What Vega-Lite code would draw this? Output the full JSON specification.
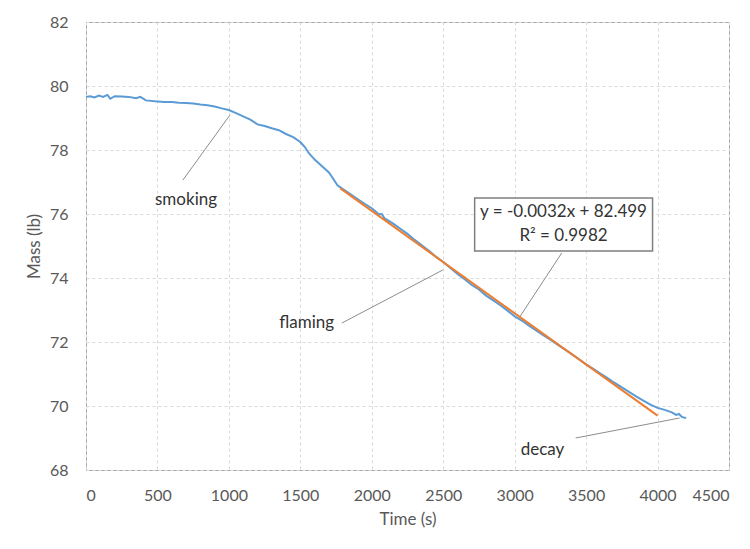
{
  "$schema": "https://vega.github.io/schema/vega-lite/v6.json",
  "width": 643,
  "height": 448,
  "autosize": {"type": "none"},
  "padding": {"left": 86, "top": 22, "right": 21, "bottom": 79},
  "background": "#ffffff",
  "config": {
    "font": "Lato",
    "view": {"stroke": "#a6a6a6", "strokeWidth": 1},
    "axis": {
      "grid": true,
      "gridColor": "#d9d9d9",
      "gridDash": [3, 3],
      "ticks": false,
      "domain": false,
      "labelFont": "Lato",
      "labelFontSize": 16,
      "labelColor": "#595959",
      "titleFont": "Lato",
      "titleFontSize": 17,
      "titleFontWeight": "normal",
      "titleColor": "#595959"
    }
  },
  "datasets": {
    "mass": [
      {"t": 0, "m": 79.66}, {"t": 30, "m": 79.68}, {"t": 60, "m": 79.64}, {"t": 90, "m": 79.70},
      {"t": 120, "m": 79.66}, {"t": 150, "m": 79.72}, {"t": 170, "m": 79.60}, {"t": 200, "m": 79.68},
      {"t": 250, "m": 79.67}, {"t": 300, "m": 79.66}, {"t": 350, "m": 79.62}, {"t": 380, "m": 79.66},
      {"t": 420, "m": 79.55}, {"t": 480, "m": 79.52}, {"t": 550, "m": 79.50}, {"t": 600, "m": 79.50},
      {"t": 650, "m": 79.48}, {"t": 700, "m": 79.47}, {"t": 750, "m": 79.45}, {"t": 800, "m": 79.42},
      {"t": 850, "m": 79.40}, {"t": 900, "m": 79.36}, {"t": 950, "m": 79.30}, {"t": 1000, "m": 79.25},
      {"t": 1050, "m": 79.15}, {"t": 1100, "m": 79.05}, {"t": 1150, "m": 78.95}, {"t": 1200, "m": 78.80},
      {"t": 1250, "m": 78.75}, {"t": 1300, "m": 78.68}, {"t": 1350, "m": 78.62}, {"t": 1400, "m": 78.50},
      {"t": 1450, "m": 78.40}, {"t": 1500, "m": 78.25}, {"t": 1530, "m": 78.10}, {"t": 1560, "m": 77.90},
      {"t": 1600, "m": 77.70}, {"t": 1650, "m": 77.50}, {"t": 1700, "m": 77.30}, {"t": 1730, "m": 77.10},
      {"t": 1760, "m": 76.90}, {"t": 1790, "m": 76.80}, {"t": 1850, "m": 76.62}, {"t": 1900, "m": 76.47},
      {"t": 1950, "m": 76.32}, {"t": 2000, "m": 76.18}, {"t": 2050, "m": 75.99}, {"t": 2070, "m": 76.00},
      {"t": 2090, "m": 75.86}, {"t": 2150, "m": 75.70}, {"t": 2200, "m": 75.54}, {"t": 2250, "m": 75.38},
      {"t": 2300, "m": 75.19}, {"t": 2350, "m": 75.02}, {"t": 2400, "m": 74.85}, {"t": 2450, "m": 74.66},
      {"t": 2500, "m": 74.50}, {"t": 2550, "m": 74.31}, {"t": 2600, "m": 74.13}, {"t": 2650, "m": 73.96},
      {"t": 2700, "m": 73.78}, {"t": 2750, "m": 73.64}, {"t": 2800, "m": 73.45}, {"t": 2850, "m": 73.30},
      {"t": 2900, "m": 73.15}, {"t": 2950, "m": 72.98}, {"t": 3000, "m": 72.80}, {"t": 3050, "m": 72.67},
      {"t": 3100, "m": 72.51}, {"t": 3150, "m": 72.36}, {"t": 3200, "m": 72.21}, {"t": 3250, "m": 72.07},
      {"t": 3300, "m": 71.92}, {"t": 3350, "m": 71.77}, {"t": 3400, "m": 71.62}, {"t": 3450, "m": 71.46},
      {"t": 3500, "m": 71.30}, {"t": 3550, "m": 71.16}, {"t": 3600, "m": 71.01}, {"t": 3650, "m": 70.87},
      {"t": 3700, "m": 70.72}, {"t": 3750, "m": 70.58}, {"t": 3800, "m": 70.44}, {"t": 3850, "m": 70.30},
      {"t": 3900, "m": 70.17}, {"t": 3950, "m": 70.04}, {"t": 4000, "m": 69.94}, {"t": 4050, "m": 69.88},
      {"t": 4100, "m": 69.80}, {"t": 4130, "m": 69.72}, {"t": 4150, "m": 69.75}, {"t": 4170, "m": 69.66},
      {"t": 4200, "m": 69.62}
    ],
    "fit": [
      {"t": 1780, "m": 76.80},
      {"t": 4000, "m": 69.70}
    ],
    "pointers": [
      {"t1": 678, "m1": 77.06, "t2": 1007, "m2": 79.09},
      {"t1": 1790, "m1": 72.59, "t2": 2497, "m2": 74.25},
      {"t1": 3329, "m1": 74.78, "t2": 3035, "m2": 72.78},
      {"t1": 3427, "m1": 69.0, "t2": 4154, "m2": 69.625}
    ],
    "labels": [
      {"t": 700, "m": 76.45, "label": "smoking"},
      {"t": 1545, "m": 72.6, "label": "flaming"},
      {"t": 3195, "m": 68.62, "label": "decay"},
      {"t": 3342, "m": 76.05, "label": "y = -0.0032x + 82.499"},
      {"t": 3342, "m": 75.30, "label": "R² = 0.9982"}
    ],
    "box": [
      {"t1": 2720, "t2": 3965, "m1": 76.5, "m2": 74.84}
    ]
  },
  "layer": [
    {
      "data": {"name": "pointers"},
      "mark": {"type": "rule", "color": "#8c8c8c", "strokeWidth": 1},
      "encoding": {
        "x": {"field": "t1", "type": "quantitative", "scale": {"domain": [0, 4500]}},
        "y": {"field": "m1", "type": "quantitative", "scale": {"domain": [68, 82]}},
        "x2": {"field": "t2"},
        "y2": {"field": "m2"}
      }
    },
    {
      "data": {"name": "mass"},
      "mark": {"type": "line", "color": "#5b9bd5", "strokeWidth": 2},
      "encoding": {
        "x": {"field": "t", "type": "quantitative", "scale": {"domain": [0, 4500]},
              "axis": {"values": [0, 500, 1000, 1500, 2000, 2500, 3000, 3500, 4000, 4500], "format": "d", "title": "Time (s)", "labelPadding": 17, "titlePadding": 8}},
        "y": {"field": "m", "type": "quantitative", "scale": {"domain": [68, 82]},
              "axis": {"values": [68, 70, 72, 74, 76, 78, 80, 82], "title": "Mass (lb)", "labelPadding": 18, "titlePadding": 6}}
      }
    },
    {
      "data": {"name": "fit"},
      "mark": {"type": "line", "color": "#ed7d31", "strokeWidth": 2},
      "encoding": {
        "x": {"field": "t", "type": "quantitative"},
        "y": {"field": "m", "type": "quantitative"}
      }
    },
    {
      "data": {"name": "box"},
      "mark": {"type": "rect", "fill": "#ffffff", "stroke": "#7f7f7f", "strokeWidth": 1.5},
      "encoding": {
        "x": {"field": "t1", "type": "quantitative"},
        "x2": {"field": "t2"},
        "y": {"field": "m1", "type": "quantitative"},
        "y2": {"field": "m2"}
      }
    },
    {
      "data": {"name": "labels"},
      "mark": {"type": "text", "font": "Lato", "fontSize": 17, "color": "#333333", "align": "center", "baseline": "middle"},
      "encoding": {
        "x": {"field": "t", "type": "quantitative"},
        "y": {"field": "m", "type": "quantitative"},
        "text": {"field": "label"}
      }
    }
  ]
}
